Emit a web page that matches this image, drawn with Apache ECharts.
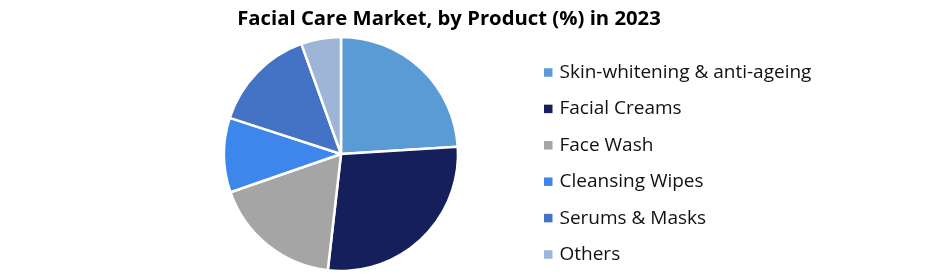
<!DOCTYPE html>
<html><head><meta charset="utf-8">
<script src="https://cdn.jsdelivr.net/npm/echarts@6/dist/echarts.min.js"></script>
<style>html,body{margin:0;padding:0;background:#fff}#c{width:941px;height:274px}</style>
</head><body><div id="c"></div>
<script>
const categories = ["Skin-whitening & anti-ageing","Facial Creams","Face Wash","Cleansing Wipes","Serums & Masks","Others"];
const values = [24.0, 27.8, 17.9, 10.3, 14.5, 5.5];
const colors = ["#5B9BD5","#141F5C","#A5A5A5","#3D87EC","#4472C4","#9FB5D8"];
const chart = echarts.init(document.getElementById('c'));
chart.setOption({
  animation:false,
  title:{text:"Facial Care Market, by Product (%) in 2023",left:444,top:4,textAlign:'center',
    textStyle:{fontFamily:"Open Sans",fontWeight:'bold',fontSize:20.3,color:'#000'}},
  legend:{orient:'vertical',left:539,top:58,itemWidth:8.5,itemHeight:8.5,itemGap:17.4,icon:'rect',
    textStyle:{fontFamily:"Open Sans",fontSize:19,lineHeight:18,color:'#111',padding:[0,0,0,2]},
    itemStyle:{borderWidth:0},
    data:categories},
  series:[{type:'pie',center:[341,154],radius:117,startAngle:90,clockwise:true,
    label:{show:false},labelLine:{show:false},
    itemStyle:{borderColor:'#fff',borderWidth:2.5},
    data:categories.map((n,i)=>({name:n,value:values[i],itemStyle:{color:colors[i]}}))}]
});
</script></body></html>
